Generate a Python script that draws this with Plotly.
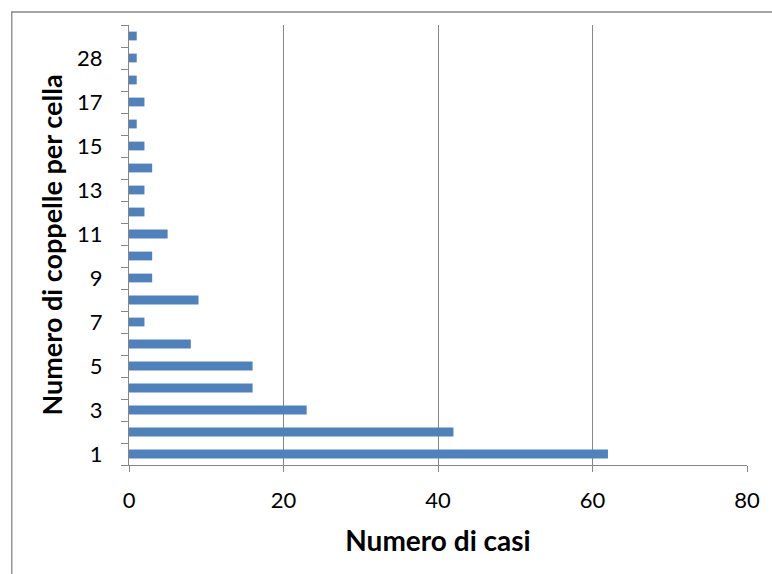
import plotly.graph_objects as go

# Data (bottom to top)
categories = ["1", "2", "3", "4", "5", "6", "7", "8", "9", "10",
              "11", "12", "13", "14", "15", "16", "17", "20", "28", "32"]
values = [62, 42, 23, 16, 16, 8, 2, 9, 3, 3,
          5, 2, 2, 3, 2, 1, 2, 1, 1, 1]
shown_labels = [c if i % 2 == 0 else "" for i, c in enumerate(categories)]
x_ticks = [0, 20, 40, 60, 80]

FONT = "Lato"
GRID = "#868686"
BLUE = "#4F81BD"

fig = go.Figure(go.Bar(
    y=categories, x=values, orientation="h",
    marker=dict(color=BLUE, line=dict(width=0)),
    width=0.4,
))

fig.update_layout(
    width=772, height=574,
    margin=dict(l=129, r=21, t=25, b=109),
    paper_bgcolor="white", plot_bgcolor="white",
    showlegend=False,
    font=dict(family=FONT, size=22, color="black"),
    xaxis=dict(
        range=[0, 80], tickvals=x_ticks,
        showgrid=True, gridcolor=GRID, gridwidth=1.3,
        showline=True, linecolor=GRID, linewidth=1.3,
        ticks="outside", ticklen=6, tickcolor=GRID, tickwidth=1.3,
        zeroline=False,
        ticklabelstandoff=9,
        tickfont=dict(family=FONT, size=22),
        title=dict(text="<b>Numero di casi</b>", font=dict(family=FONT, size=28), standoff=19),
    ),
    yaxis=dict(
        type="category", categoryorder="array", categoryarray=categories,
        tickvals=categories, ticktext=shown_labels,
        tickson="boundaries",
        showgrid=False,
        showline=True, linecolor=GRID, linewidth=1.3,
        ticks="outside", ticklen=7, tickcolor=GRID, tickwidth=1.3,
        tickfont=dict(family=FONT, size=22),
        ticklabelstandoff=21,
        title=dict(text="<b>Numero di coppelle per cella</b>", font=dict(family=FONT, size=27), standoff=6),
    ),
    shapes=[dict(type="rect", xref="paper", yref="paper",
                 x0=-118/622, x1=1 + 40/622, y0=-200/440, y1=1 + 13/440,
                 line=dict(color=GRID, width=1.3), fillcolor="rgba(0,0,0,0)", layer="below")],
)

fig.write_html("out.html")
